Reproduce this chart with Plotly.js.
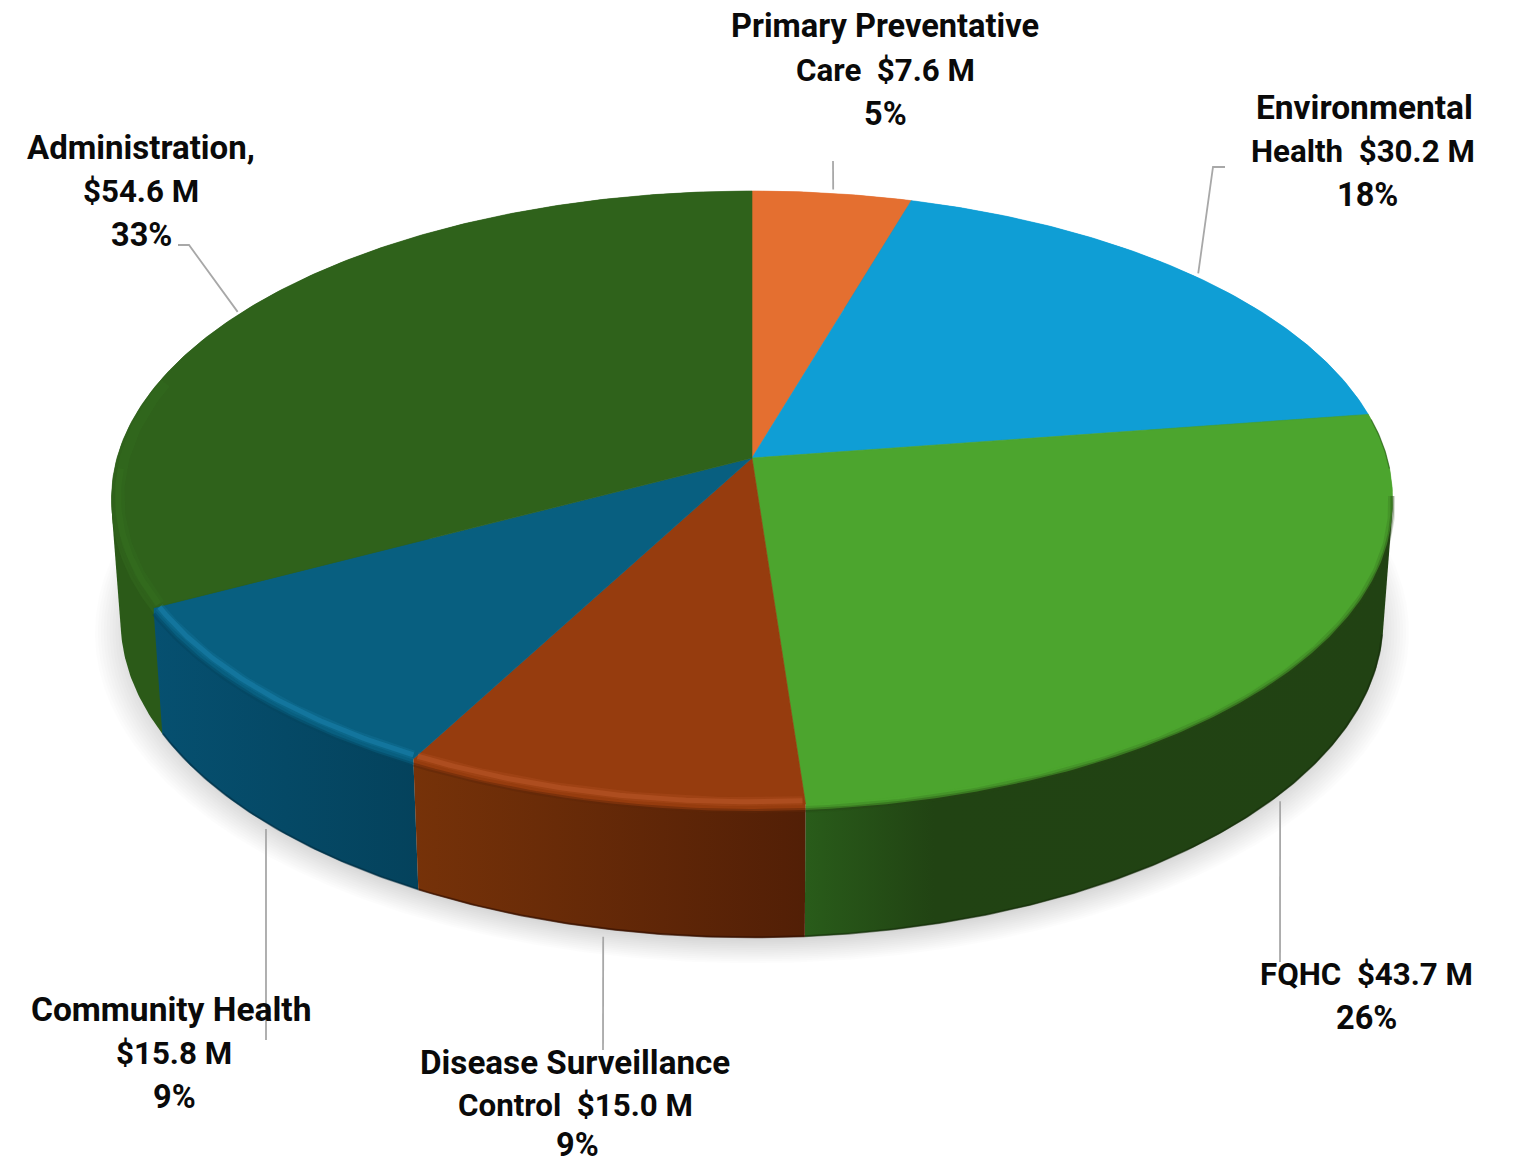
<!DOCTYPE html>
<html>
<head>
<meta charset="utf-8">
<script src="https://cdn.plot.ly/plotly-3.0.1.min.js"></script>
<style>html,body{margin:0;padding:0;background:#fff}#chart{width:1516px;height:1165px}</style>
</head>
<body>
<div id="chart"></div>
<script>
// Budget shares, clockwise from twelve o'clock
const categories = ["Primary Preventative Care", "Environmental Health", "FQHC",
                    "Disease Surveillance Control", "Community Health", "Administration"];
const budgetMillions = [7.6, 30.2, 43.7, 15.0, 15.8, 54.6];
const labelHeads = [["Primary Preventative", "Care\u00a0 "], ["Environmental", "Health\u00a0 "], ["FQHC\u00a0 "],
                    ["Disease Surveillance", "Control\u00a0 "], ["Community Health", ""], ["Administration,", ""]];
const faceColors = ["#E46F30", "#0F9ED5", "#4CA52E", "#963C0E", "#085F80", "#2F621B"];
const sideColors = [
  [[0, "#A04C1E"], [1, "#A04C1E"]],
  [[0, "#0A6A90"], [1, "#0A6A90"]],
  [[0, "#295C1A"], [0.22, "#214313"], [1, "#214213"]],
  [[0, "#763209"], [1, "#521F06"]],
  [[0, "#065070"], [1, "#04425C"]],
  [[0, "#2B5A18"], [1, "#2B5A18"]]
];

// Projection of the disc: the far side is foreshortened, so the hub sits above the ellipse centre
const topPlane = {cx: 752, cy: 458, a: 635, b: 301.8, k: 0.1303};
const bevelPlane = {cx: 752, cy: 464, a: 635, b: 301.8, k: 0.1303};
const basePlane = {cx: 752, cy: 579, a: 626, b: 312, k: 0.1303};
const shadowPlane = {cx: 752, cy: 588, a: 626, b: 312, k: 0.1303};
const rad = d => d * Math.PI / 180;

function project(plane, deg, r) {
  const u = r * Math.sin(rad(deg)), v = r * Math.cos(rad(deg)), d = 1 + plane.k * v;
  return [plane.cx + plane.a * u / d, plane.cy - plane.b * v / d];
}
function arc(plane, from, to, r) {
  const n = Math.max(2, Math.ceil(Math.abs(to - from))) * 2, pts = [];
  for (let i = 0; i <= n; i++) pts.push(project(plane, from + (to - from) * i / n, r));
  return pts;
}
// Closed convex outline of a point set, so walls follow the silhouette of the solid
function hull(points) {
  const p = points.slice().sort((m, n) => m[0] - n[0] || m[1] - n[1]);
  const cross = (o, m, n) => (m[0] - o[0]) * (n[1] - o[1]) - (m[1] - o[1]) * (n[0] - o[0]);
  const chain = list => {
    const out = [];
    list.forEach(q => {
      while (out.length >= 2 && cross(out[out.length - 2], out[out.length - 1], q) <= 0) out.pop();
      out.push(q);
    });
    out.pop();
    return out;
  };
  const h = chain(p).concat(chain(p.slice().reverse()));
  h.push(h[0]);
  return h;
}
const xs = pts => pts.map(p => p[0]);
const ys = pts => pts.map(p => p[1]);

const total = budgetMillions.reduce((s, v) => s + v, 0);
const spans = [];
let running = 0;
budgetMillions.forEach(v => {
  const start = running / total * 360;
  running += v;
  spans.push([start, running / total * 360]);
});

const traces = [];
const base = {type: "scatter", hoverinfo: "skip", showlegend: false};

// Soft ground shadow: a stack of faint discs of growing radius
for (let i = 0; i < 16; i++) {
  const ring = arc(shadowPlane, 0, 360, 1.04 - i * 0.0045);
  traces.push({...base, x: xs(ring), y: ys(ring), mode: "lines", line: {width: 0},
               fill: "toself", fillcolor: "rgba(0,0,0,0.011)"});
}

// Outer walls, back slices first
[0, 1, 5, 2, 4, 3].forEach(i => {
  const [a, b] = spans[i];
  const pts = hull(arc(bevelPlane, a, b, 1).concat(arc(basePlane, a, b, 1)));
  traces.push({...base, x: xs(pts), y: ys(pts), mode: "lines", line: {width: 0}, fill: "toself",
               fillgradient: {type: "horizontal", colorscale: sideColors[i]}, name: categories[i]});
});

// Dark lower edge of the walls, only where the base is in view
const baseEdges = [
  [100, spans[2][1], "rgba(20,40,10,0.5)"],
  [spans[3][0], spans[3][1], "rgba(50,16,2,0.65)"],
  [spans[4][0], spans[4][1], "rgba(2,40,58,0.5)"]
];
baseEdges.forEach(([from, to, c]) => {
  const pts = arc(basePlane, from, to, 0.999);
  traces.push({...base, x: xs(pts), y: ys(pts), mode: "lines", line: {color: c, width: 2}});
});

// Rounded shoulder between the flat top and the wall
[0, 1, 5, 2, 4, 3].forEach(i => {
  const [a, b] = spans[i];
  const pts = hull(arc(topPlane, a, b, 1).concat(arc(bevelPlane, a, b, 1)));
  traces.push({...base, x: xs(pts), y: ys(pts), mode: "lines", line: {width: 0},
               fill: "toself", fillcolor: faceColors[i]});
});

// Top faces
spans.forEach(([a, b], i) => {
  const pts = [[topPlane.cx, topPlane.cy]].concat(arc(topPlane, a, b, 1));
  pts.push(pts[0]);
  traces.push({...base, x: xs(pts), y: ys(pts), mode: "lines", name: categories[i],
               line: {color: faceColors[i], width: 0.6}, fill: "toself", fillcolor: faceColors[i]});
});

// Highlights and soft edges along the shoulder: [plane, from, to, radius, width, colour]
const bevels = [
  [topPlane, spans[4][0] + 0.3, spans[4][1] - 0.1, 0.992, 9, "rgba(26,133,174,0.22)"],
  [topPlane, spans[4][0] + 0.3, spans[4][1] - 0.1, 0.992, 5, "rgba(30,140,185,0.4)"],
  [topPlane, spans[3][0] + 0.2, spans[3][1] - 0.1, 0.992, 9, "rgba(190,90,45,0.22)"],
  [topPlane, spans[3][0] + 0.2, spans[3][1] - 0.1, 0.992, 5, "rgba(196,94,48,0.4)"],
  [topPlane, spans[5][0] + 0.4, 285, 0.988, 10, "rgba(58,127,34,0.14)"],
  [topPlane, spans[5][0] + 0.4, 268, 0.99, 6, "rgba(58,127,34,0.2)"],
  [bevelPlane, 96, spans[2][1], 0.999, 7, "rgba(38,80,22,0.18)"],
  [bevelPlane, 96, spans[2][1], 1.0, 3.5, "rgba(36,70,20,0.35)"],
  [bevelPlane, spans[3][0], spans[3][1], 1.0, 4, "rgba(96,38,8,0.5)"],
  [bevelPlane, spans[4][0], spans[4][1], 1.0, 4, "rgba(4,70,96,0.5)"],
  [topPlane, spans[1][1] + 1, 92, 1.0, 1.4, "rgba(32,70,18,0.45)"]
];
bevels.forEach(([plane, from, to, r, w, c]) => {
  const pts = arc(plane, from, to, r);
  traces.push({...base, x: xs(pts), y: ys(pts), mode: "lines", line: {color: c, width: w}});
});

// Leader lines: rim point at each slice's mid angle out to the label
const rimOffsets = [[1, -4], [5, -2], [-4, 10], [0, 8], [3, 8], [-5, 0]];
const leaderPlane = [topPlane, topPlane, basePlane, basePlane, basePlane, topPlane];
const leaderEnds = [
  [[833, 161]],
  [[1213, 167], [1225, 167]],
  [[1280, 962]],
  [[603, 1050]],
  [[266, 1040]],
  [[189, 245], [178, 245]]
];
spans.forEach(([a, b], i) => {
  const p = project(leaderPlane[i], (a + b) / 2, 1);
  const pts = [[p[0] + rimOffsets[i][0], p[1] + rimOffsets[i][1]]].concat(leaderEnds[i]);
  traces.push({...base, x: xs(pts), y: ys(pts), mode: "lines", line: {color: "#A8A8A8", width: 1.8}});
});

// Label text, one annotation per line for the even 44px leading
const labelCentres = [
  [[885, 26], [885, 70], [885, 114]],
  [[1364, 107], [1363, 151], [1367, 195]],
  [[1366, 974], [1366, 1018]],
  [[575, 1062], [575, 1105], [577, 1145]],
  [[171, 1009], [174, 1053], [174, 1097]],
  [[141, 147], [141, 191], [141, 235]]
];
const nameSizes = [32.6, 33.5, 33, 33.2, 33.5, 33];
const moneySize = 31.3, percentSize = 32.5;
const annotations = [];
categories.forEach((name, i) => {
  const money = "$" + budgetMillions[i].toFixed(1) + " M";
  const pct = Math.round(budgetMillions[i] / total * 100) + "%";
  const heads = labelHeads[i];
  const lines = heads.slice(0, -1).concat([heads[heads.length - 1] + money, pct]);
  lines.forEach((text, j) => {
    const size = j === lines.length - 1 ? percentSize : j === lines.length - 2 ? moneySize : nameSizes[i];
    annotations.push({
      x: labelCentres[i][j][0], y: labelCentres[i][j][1], xref: "x", yref: "y", text: text,
      showarrow: false, xanchor: "center", yanchor: "middle",
      font: {family: "Roboto, sans-serif", size: size, color: "#0A0A0A", weight: 700}
    });
  });
});

const layout = {
  width: 1516, height: 1165,
  margin: {l: 0, r: 0, t: 0, b: 0},
  paper_bgcolor: "#FFFFFF", plot_bgcolor: "#FFFFFF",
  xaxis: {range: [0, 1516], visible: false, fixedrange: true},
  yaxis: {range: [1165, 0], visible: false, fixedrange: true},
  annotations: annotations,
  showlegend: false
};
Plotly.newPlot("chart", traces, layout, {displayModeBar: false, staticPlot: true});
</script>
</body>
</html>
